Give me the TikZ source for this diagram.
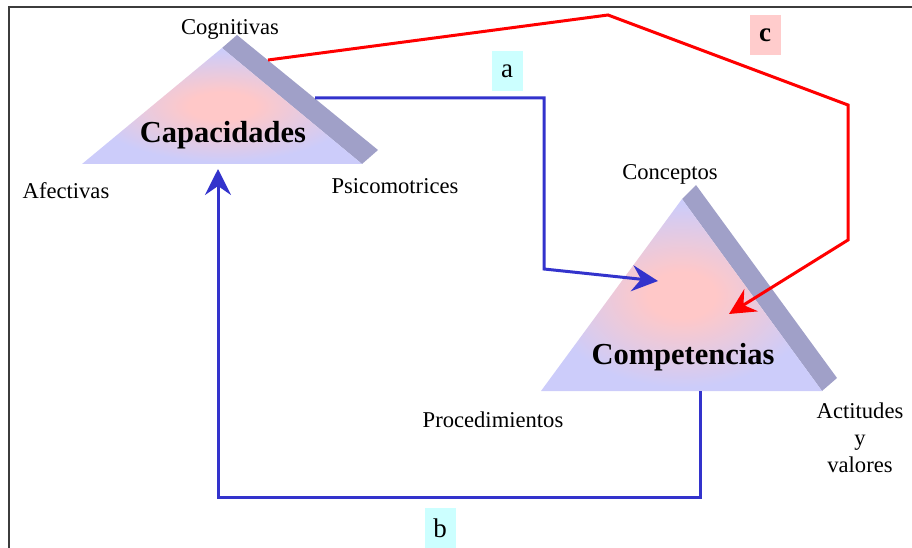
\documentclass[tikz,border=0pt]{standalone}
\usepackage{fontspec}
\setmainfont{Liberation Serif}
\usetikzlibrary{arrows.meta}
\definecolor{lav}{RGB}{204,204,250}
\definecolor{pinkc}{RGB}{255,200,200}
\definecolor{band}{RGB}{160,160,200}
\definecolor{bluel}{RGB}{51,51,204}
\definecolor{redl}{RGB}{255,0,0}
\definecolor{cyanbox}{RGB}{204,255,255}
\definecolor{pinkbox}{RGB}{255,204,204}
\definecolor{frame}{RGB}{60,60,60}
\pgfdeclareradialshading{trishade}{\pgfpoint{0bp}{0bp}}{color(0bp)=(pinkc); color(6bp)=(pinkc); color(24bp)=(lav); color(50bp)=(lav)}
\begin{document}
\begin{tikzpicture}[x=1pt,y=-1pt,
  lbl/.style={font=\fontsize{22.6}{25}\selectfont, inner sep=0pt, align=center},
  title/.style={font=\fontsize{30.5}{33}\selectfont\bfseries, inner sep=0pt},
  tag/.style={font=\fontsize{27}{29}\selectfont, inner sep=0pt, minimum width=31pt, minimum height=40pt},
  conn/.style={line width=3pt, -{Stealth[length=26pt,width=26pt,inset=9pt]}},
  blueconn/.style={conn, color=bluel},
  redconn/.style={conn, color=redl}]
\useasboundingbox (0,0) rectangle (912,548);
\draw[line width=2pt, frame] (9,548) -- (9,7) -- (912,7);

% Capacidades triangle
\coordinate (capA) at (222,48);
\coordinate (capL) at (82,164);
\coordinate (capR) at (362,164);
\fill[band] (capA) -- (237,35) -- (378,150) -- (capR) -- cycle;
\shade[shading=trishade] (capA) -- (capL) -- (capR) -- cycle;
\node[title] (cap) at (223,135) {Capacidades};
\node[lbl] (cog) at (230,29) {Cognitivas};
\node[lbl] (afe) at (66,191) {Afectivas};
\node[lbl] (psi) at (395,186) {Psicomotrices};

% Competencias triangle
\coordinate (comA) at (682,199);
\coordinate (comL) at (541,391);
\coordinate (comR) at (822,391);
\fill[band] (comA) -- (696,185) -- (837,378) -- (comR) -- cycle;
\shade[shading=trishade] (comA) -- (comL) -- (comR) -- cycle;
\node[title] (com) at (683,357) {Competencias};
\node[lbl] (con) at (670,174) {Conceptos};
\node[lbl] (pro) at (493,420) {Procedimientos};
\node[lbl] (act) at (860,438) {Actitudes\\[2pt]y\\[2pt]valores};

% connectors
\coordinate (aS) at (315,98);
\coordinate (aE) at (658,281);
\coordinate (bS) at (700,391);
\coordinate (bE) at (218,169);
\coordinate (cS) at (268,60);
\coordinate (cE) at (729,314);
\draw[blueconn] (aS) -- (544,98) -- (544,269) -- (aE);
\draw[blueconn] (bS) -- (700,497) -- (218,497) -- (bE);
\draw[redconn] (cS) -- (608,15) -- (848,105) -- (848,240) -- (cE);

% tags
\node[tag, fill=cyanbox] (ta) at (507,71) {a};
\node[tag, fill=cyanbox] (tb) at (440,528) {b};
\node[tag, fill=pinkbox] (tc) at (765,35) {\bfseries c};
\end{tikzpicture}
\end{document}
